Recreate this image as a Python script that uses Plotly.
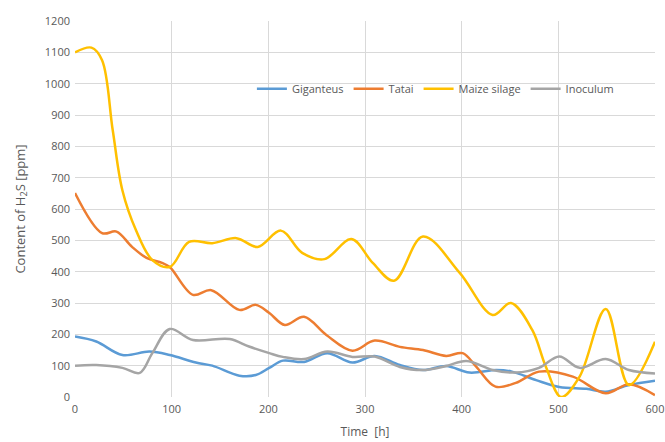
import plotly.graph_objects as go

giganteus_t = [0, 22, 49, 77, 98, 125, 142, 170, 187, 201, 215, 237, 261, 287, 310, 336, 360, 384, 408, 436, 452, 477, 501, 529, 549, 573, 600]
giganteus_v = [193, 177, 134, 145, 134, 110, 100, 68, 70, 93, 116, 112, 140, 110, 131, 102, 86, 99, 78, 86, 81, 54, 32, 26, 17, 38, 52]

tatai_t = [0, 28, 43, 59, 74, 90, 98, 122, 141, 170, 187, 201, 217, 237, 260, 287, 310, 336, 360, 384, 401, 415, 435, 456, 480, 515, 549, 573, 600]
tatai_v = [651, 523, 528, 479, 444, 428, 415, 326, 341, 278, 294, 268, 230, 256, 198, 148, 180, 160, 150, 131, 140, 97, 33, 45, 81, 65, 12, 41, 6]

maize_t = [0, 17, 28, 39, 49, 63, 80, 98, 118, 142, 167, 189, 213, 235, 258, 286, 308, 330, 360, 398, 432, 451, 473, 487, 503, 522, 549, 573, 600]
maize_v = [1100, 1115, 1075, 852, 660, 533, 437, 415, 495, 491, 507, 479, 531, 460, 440, 504, 428, 371, 512, 396, 262, 300, 214, 97, 0, 65, 281, 38, 176]

inoculum_t = [0, 22, 49, 67, 80, 98, 122, 160, 180, 201, 215, 237, 261, 287, 310, 336, 360, 384, 405, 432, 456, 480, 501, 522, 549, 573, 600]
inoculum_v = [100, 102, 93, 77, 140, 217, 182, 185, 161, 140, 128, 121, 145, 128, 129, 96, 86, 99, 115, 86, 78, 93, 129, 93, 121, 86, 75]

series = [
    ("Giganteus", giganteus_t, giganteus_v, "#5B9BD5"),
    ("Tatai", tatai_t, tatai_v, "#ED7D31"),
    ("Maize silage", maize_t, maize_v, "#FFC000"),
    ("Inoculum", inoculum_t, inoculum_v, "#A5A5A5"),
]

fig = go.Figure()
for name, t, v, c in series:
    fig.add_trace(go.Scatter(x=t, y=v, name=name, mode="lines",
                             line=dict(color=c, width=2.5, shape="spline", smoothing=1.0)))

font = dict(family="Open Sans, Liberation Sans, sans-serif", size=11, color="#595959")
fig.update_layout(
    width=665, height=442,
    margin=dict(l=75, r=10, t=21, b=45),
    paper_bgcolor="white", plot_bgcolor="white",
    font=font,
    showlegend=True,
    legend=dict(orientation="h", x=0.305, y=0.82, xanchor="left", yanchor="middle",
                bgcolor="rgba(0,0,0,0)", font=dict(size=11, color="#595959"),
                tracegroupgap=0),
)
fig.update_xaxes(range=[0, 600], tickvals=[0, 100, 200, 300, 400, 500, 600],
                 showgrid=True, gridcolor="#D9D9D9", gridwidth=1, zeroline=False,
                 showline=False, ticks="", tickfont=dict(size=11, color="#595959"),
                 ticklabeloverflow="allow", automargin=False, ticklabelstandoff=4,
                 title=dict(text="Time  [h]", font=dict(size=12, color="#595959"), standoff=12))
fig.update_yaxes(range=[0, 1200], tickvals=list(range(0, 1201, 100)),
                 showgrid=True, gridcolor="#D9D9D9", gridwidth=1, zeroline=False,
                 showline=False, ticks="", tickfont=dict(size=11, color="#595959"),
                 automargin=False, ticklabelstandoff=4,
                 title=dict(text="Content of H<sub>2</sub>S [ppm]", font=dict(size=13, color="#595959"), standoff=16))

fig.write_html("out.html", config={"displayModeBar": False},
               post_script="document.body.style.margin='0';")
